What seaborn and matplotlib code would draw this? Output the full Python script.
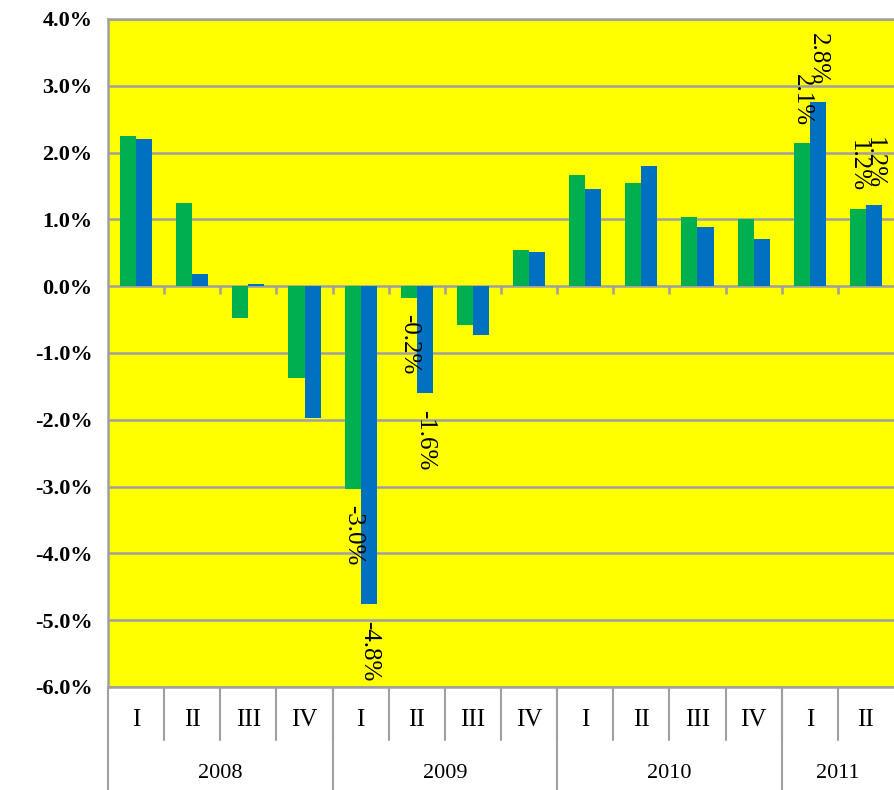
import numpy as np
import matplotlib
matplotlib.use("Agg")
import matplotlib.pyplot as plt
import matplotlib.transforms as mtransforms
import pandas as pd
import seaborn as sns

YEARS = ["2008", "2009", "2010", "2011"]
QUARTERS_PER_YEAR = [4, 4, 4, 2]
QUARTER_NAMES = ["I", "II", "III", "IV"]

GREEN = [2.25, 1.25, -0.47, -1.38, -3.03, -0.17, -0.58, 0.54, 1.67, 1.54, 1.03, 1.00, 2.14, 1.16]
BLUE = [2.21, 0.18, 0.04, -1.98, -4.76, -1.60, -0.73, 0.51, 1.46, 1.80, 0.89, 0.71, 2.76, 1.21]
LABELLED = [4, 5, 12, 13]   # only these quarters carry value labels

GRAY = "#a0a0a0"

periods, quarter_lab = [], []
for y, n in zip(YEARS, QUARTERS_PER_YEAR):
    for q in QUARTER_NAMES[:n]:
        periods.append(y + " " + q)
        quarter_lab.append(q)

df = pd.DataFrame({
    "period": periods * 2,
    "value": GREEN + BLUE,
    "series": ["green"] * len(GREEN) + ["blue"] * len(BLUE),
})

sns.set_theme(style="white")
plt.rcParams["font.family"] = ["Liberation Serif", "DejaVu Serif"]
plt.rcParams["text.color"] = "black"
plt.rcParams["ytick.labelcolor"] = "black"

fig = plt.figure(figsize=(8.94, 7.90), dpi=100)
ax = fig.add_axes([108 / 894, 103 / 790, 786 / 894, 668 / 790])
ax.set_facecolor("#ffff00")

sns.barplot(data=df, x="period", y="value", hue="series", order=periods,
            hue_order=["green", "blue"], palette=["#00b050", "#0070c0"],
            saturation=1, width=0.57, linewidth=0, legend=False, ax=ax, zorder=3)

ax.set_ylim(-6, 4)
ax.set_xlim(-0.5, len(periods) - 0.5)
ax.set_yticks(np.arange(-6, 5, 1))
ax.set_yticklabels([f"{v:.1f}%" for v in np.arange(-6, 5, 1)],
                   fontsize=16, fontweight="bold", color="black")
ax.yaxis.grid(True, color=GRAY, linewidth=1.8, zorder=0)
ax.set_axisbelow(True)
ax.tick_params(axis="y", length=7, width=1.8, color=GRAY, direction="out", pad=4)
ax.set_xticks([])
ax.set_xlabel("")
ax.set_ylabel("")
for side in ["left", "bottom", "top"]:
    ax.spines[side].set_color(GRAY)
    ax.spines[side].set_linewidth(1.8)
ax.spines["right"].set_visible(False)

# category tick marks on the zero line
ax.vlines(np.arange(len(periods) - 1) + 0.5, -0.12, 0, color=GRAY, lw=1.8, zorder=4)

# value labels
for cont, vals in zip(ax.containers, [GREEN, BLUE]):
    labs = [f"{v:.1f}%" if i in LABELLED else "" for i, v in enumerate(vals)]
    ax.bar_label(cont, labels=labs, rotation=-90, padding=12, fontsize=18,
                 color="black", clip_on=False)

# two-level category axis
trans = mtransforms.blended_transform_factory(ax.transData, ax.transAxes)
for i, q in enumerate(quarter_lab):
    ax.text(i, -0.05, q, transform=trans, ha="center", va="center", fontsize=18)
    if i < len(quarter_lab) - 1:
        ax.plot([i + 0.5, i + 0.5], [0, -0.079], transform=trans, color=GRAY,
                lw=1.5, clip_on=False)
start = 0
for y, n in zip(YEARS, QUARTERS_PER_YEAR):
    ax.text(start + (n - 1) / 2, -0.129, y, transform=trans, ha="center",
            va="center", fontsize=16)
    ax.plot([start - 0.5, start - 0.5], [0, -0.16], transform=trans, color=GRAY,
            lw=1.5, clip_on=False)
    start += n

fig.savefig("out.png", dpi=100)
